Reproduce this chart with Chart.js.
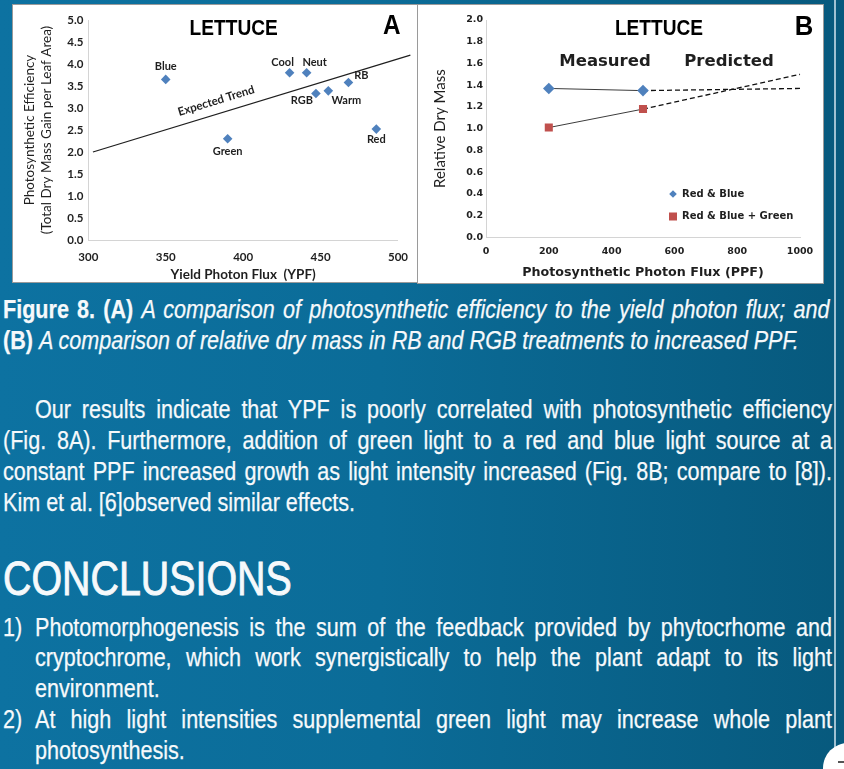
<!DOCTYPE html>
<html>
<head>
<meta charset="utf-8">
<script src="https://cdn.jsdelivr.net/npm/chart.js@4.4.1/dist/chart.umd.min.js"></script>
<style>
  html,body{margin:0;padding:0;}
  body{width:844px;height:769px;overflow:hidden;position:relative;
    background:linear-gradient(90deg,#0d72a1 0%,#0b6c98 45%,#07597d 100%);}
  .panel{position:absolute;background:#fff;box-shadow:0 0 0 1px #9a9a9a;}
  .panel canvas{position:absolute;left:0;top:0;}
  .t{position:absolute;left:3px;width:1011px;color:#f6f9fb;
     font-family:'Liberation Sans',Arial,sans-serif;font-size:26.3px;line-height:31px;white-space:nowrap;
     transform:scaleX(0.82);transform-origin:0 0;-webkit-text-stroke:0.25px #f6f9fb;}
  .j{text-align:justify;text-align-last:justify;white-space:normal;}
  .ind{left:35px;width:972px;}
  .hang{left:35px;width:972px;}
  .cap1{width:1008px;}
</style>
</head>
<body>
<div class="panel" style="left:13px;top:5px;width:405px;height:277px;"><canvas id="ca" width="405" height="277"></canvas></div>
<div class="panel" style="left:418px;top:5px;width:405px;height:278px;"><canvas id="cb" width="405" height="278"></canvas></div>

<div style="position:absolute;left:834px;top:0;width:1.5px;height:769px;background:#9fc1d2;"></div>

<div class="t j cap1" style="top:294px;"><b>Figure 8. (A)</b> <i>A comparison of photosynthetic efficiency to the yield photon flux; and</i></div>
<div class="t" style="top:325px;"><b>(B)</b> <i>A comparison of relative dry mass in RB and RGB treatments to increased PPF.</i></div>

<div class="t j ind" style="top:394px;">Our results indicate that YPF is poorly correlated with photosynthetic efficiency</div>
<div class="t j" style="top:425px;">(Fig. 8A). Furthermore, addition of green light to a red and blue light source at a</div>
<div class="t j" style="top:456px;">constant PPF increased growth as light intensity increased (Fig. 8B; compare to [8]).</div>
<div class="t" style="top:487px;">Kim et al. [6]observed similar effects.</div>

<div class="t" style="top:554px;font-size:48px;line-height:50px;-webkit-text-stroke:0.9px #f6f9fb;">CONCLUSIONS</div>
<div class="t" style="top:612px;width:40px;">1)</div>
<div class="t j hang" style="top:612px;">Photomorphogenesis is the sum of the feedback provided by phytocrhome and</div>
<div class="t j hang" style="top:642px;">cryptochrome, which work synergistically to help the plant adapt to its light</div>
<div class="t hang" style="top:673px;">environment.</div>
<div class="t" style="top:704px;width:40px;">2)</div>
<div class="t j hang" style="top:704px;">At high light intensities supplemental green light may increase whole plant</div>
<div class="t hang" style="top:735px;">photosynthesis.</div>

<div style="position:absolute;left:823px;top:743px;width:50px;height:50px;border-radius:50%;background:#fff;"></div>
<div style="position:absolute;left:838px;top:761px;width:8px;height:2px;background:#555;"></div>

<script>
// ---------- Panel A data ----------
const treatmentNames = ['Blue','Green','Cool','Neut','RGB','Warm','RB','Red'];
const ypfValues      = [350, 390, 430, 441, 447, 455, 468, 486];
const efficiency     = [3.65, 2.30, 3.80, 3.80, 3.33, 3.39, 3.58, 2.52];
const trendYpf       = [303, 508];
const trendEff       = [2.0, 4.2];
const ypfTicks       = [300, 350, 400, 450, 500];
const effTicks       = [0, 0.5, 1, 1.5, 2, 2.5, 3, 3.5, 4, 4.5, 5];

// ---------- Panel B data ----------
const ppfMeasured  = [200, 500];
const rbMeasured   = [1.37, 1.35];
const rgbMeasured  = [1.01, 1.18];
const ppfPredicted = [500, 1000];
const rbPredicted  = [1.35, 1.37];
const rgbPredicted = [1.18, 1.50];
const seriesNames  = ['Red & Blue', 'Red & Blue + Green'];
const ppfTicks     = [0, 200, 400, 600, 800, 1000];
const massTicks    = [0, 0.2, 0.4, 0.6, 0.8, 1.0, 1.2, 1.4, 1.6, 1.8, 2.0];

const BLUE = '#4f81bd', RED = '#c0504d', INK = '#1f1f1f';
const fontA = 'Lato, "Open Sans", sans-serif';
const fontB = '"DejaVu Sans", Verdana, sans-serif';
const arial = '"Liberation Sans", Arial, sans-serif';

// label offsets (pixels, style only)
const labelOffsets = [[0,-13],[0,13],[-7,-10],[8,-10],[-14,7],[18,10],[13,-7],[0,10]];

function narrowText(ctx, text, x, y, font, sx) {
  ctx.save();
  ctx.font = font;
  ctx.translate(x, y);
  ctx.scale(sx, 1);
  ctx.fillText(text, 0, 0);
  ctx.restore();
}

const panelAPlugin = {
  id: 'panelA',
  afterDatasetsDraw(chart) {
    const ctx = chart.ctx;
    ctx.save();
    ctx.fillStyle = INK;
    ctx.textAlign = 'center';
    ctx.textBaseline = 'middle';
    ctx.font = 'bold 11px ' + fontA;
    const meta = chart.getDatasetMeta(0);
    meta.data.forEach((el, i) => {
      const o = labelOffsets[i];
      ctx.fillText(treatmentNames[i], el.x + o[0], el.y + o[1]);
    });
    const tm = chart.getDatasetMeta(1).data;
    const x0 = tm[0].x, y0 = tm[0].y, x1 = tm[1].x, y1 = tm[1].y;
    const ang = Math.atan2(y1 - y0, x1 - x0);
    const t = 0.40;
    const px = x0 + (x1 - x0) * t, py = y0 + (y1 - y0) * t;
    ctx.translate(px + Math.sin(ang) * 13, py - Math.cos(ang) * 13);
    ctx.rotate(ang);
    ctx.font = 'bold 11.5px ' + fontA;
    ctx.fillText('Expected Trend', 0, 0);
    ctx.restore();
    ctx.save();
    ctx.fillStyle = '#000';
    ctx.textAlign = 'center';
    ctx.textBaseline = 'middle';
    narrowText(ctx, 'LETTUCE', 220.7, 24, 'bold 22.5px ' + arial, 0.85);
    narrowText(ctx, 'A', 378.7, 22, 'bold 27px ' + arial, 0.9);
    ctx.restore();
  }
};

new Chart(document.getElementById('ca'), {
  type: 'scatter',
  data: {
    datasets: [
      {
        label: 'Treatments',
        data: ypfValues.map((x, i) => ({x: x, y: efficiency[i]})),
        pointStyle: 'rectRot', pointRadius: 4.8,
        backgroundColor: BLUE, borderColor: BLUE, borderWidth: 0
      },
      {
        label: 'Expected Trend',
        type: 'line',
        data: trendYpf.map((x, i) => ({x: x, y: trendEff[i]})),
        borderColor: INK, borderWidth: 1.3, pointRadius: 0, clip: false, fill: false
      }
    ]
  },
  options: {
    responsive: false, animation: false, devicePixelRatio: 1,
    layout: {padding: {top: 15, right: 19, left: 0, bottom: 0}},
    plugins: {legend: {display: false}, tooltip: {enabled: false}},
    scales: {
      x: {
        type: 'linear', min: ypfTicks[0], max: ypfTicks[ypfTicks.length - 1],
        afterBuildTicks(s) { s.ticks = ypfTicks.map(v => ({value: v})); },
        ticks: {padding: 10, color: INK, font: {family: fontA, weight: 'bold', size: 11.5},
                callback: v => String(v)},
        grid: {display: false, drawTicks: false},
        border: {display: true, color: '#d4d4d4', width: 1},
        title: {display: true, text: 'Yield Photon Flux  (YPF)', color: INK,
                font: {family: fontA, weight: 'bold', size: 13.5, lineHeight: 1.1}, padding: {top: 0, bottom: 0}},
        afterFit(s) { s.height = 42; }
      },
      y: {
        type: 'linear', min: 0, max: 5,
        afterBuildTicks(s) { s.ticks = effTicks.map(v => ({value: v})); },
        ticks: {padding: 5, color: INK, font: {family: fontA, weight: 'bold', size: 11.5},
                callback: v => Number(v).toFixed(1)},
        grid: {display: false, drawTicks: false},
        border: {display: true, color: '#d4d4d4', width: 1},
        title: {display: true, text: ['Photosynthetic Efficiency', '(Total Dry Mass Gain per Leaf Area)'],
                color: INK, font: {family: fontA, size: 13.5, lineHeight: 1.26}, padding: {top: 8.5, bottom: 0}},
        afterFit(s) { s.width = 75.3; }
      }
    }
  },
  plugins: [panelAPlugin]
});

// ---------- Panel B ----------
function drawDiamond(ctx, x, y, r) {
  ctx.beginPath();
  ctx.moveTo(x, y - r); ctx.lineTo(x + r, y); ctx.lineTo(x, y + r); ctx.lineTo(x - r, y);
  ctx.closePath(); ctx.fill();
}

const panelBPlugin = {
  id: 'panelB',
  afterDatasetsDraw(chart) {
    const ctx = chart.ctx;
    ctx.save();
    ctx.textAlign = 'center';
    ctx.textBaseline = 'middle';
    ctx.fillStyle = '#000';
    narrowText(ctx, 'LETTUCE', 241, 24, 'bold 22.5px ' + arial, 0.85);
    narrowText(ctx, 'B', 386, 23, 'bold 27px ' + arial, 0.95);
    ctx.fillStyle = INK;
    ctx.font = 'bold 16.5px ' + fontB;
    ctx.fillText('Measured', 187, 57);
    ctx.fillText('Predicted', 311, 57);
    ctx.textAlign = 'left';
    ctx.font = 'bold 10px ' + fontB;
    ctx.fillStyle = BLUE;
    drawDiamond(ctx, 255, 189, 3.8);
    ctx.fillStyle = RED;
    ctx.fillRect(251, 207.5, 8, 8);
    ctx.fillStyle = INK;
    ctx.fillText(seriesNames[0], 264, 189.5);
    ctx.fillText(seriesNames[1], 264, 211.8);
    ctx.restore();
  }
};

const toPts = (xs, ys) => xs.map((x, i) => ({x: x, y: ys[i]}));

new Chart(document.getElementById('cb'), {
  type: 'line',
  data: {
    datasets: [
      {label: seriesNames[0], data: toPts(ppfMeasured, rbMeasured),
       borderColor: '#3c3c3c', borderWidth: 1, pointStyle: 'rectRot', pointRadius: 5.8,
       pointBackgroundColor: BLUE, pointBorderColor: BLUE, pointBorderWidth: 0, fill: false},
      {label: seriesNames[1], data: toPts(ppfMeasured, rgbMeasured),
       borderColor: '#3c3c3c', borderWidth: 1, pointStyle: 'rect', pointRadius: 5.7,
       pointBackgroundColor: RED, pointBorderColor: RED, pointBorderWidth: 0, fill: false},
      {label: seriesNames[0] + ' predicted', data: toPts(ppfPredicted, rbPredicted),
       borderColor: '#111', borderWidth: 1.3, borderDash: [5, 3], pointRadius: 0, fill: false, clip: false},
      {label: seriesNames[1] + ' predicted', data: toPts(ppfPredicted, rgbPredicted),
       borderColor: '#111', borderWidth: 1.3, borderDash: [5, 3], pointRadius: 0, fill: false, clip: false}
    ]
  },
  options: {
    responsive: false, animation: false, devicePixelRatio: 1,
    layout: {padding: {top: 15, right: 23, left: 0, bottom: 0}},
    plugins: {legend: {display: false}, tooltip: {enabled: false}},
    scales: {
      x: {
        type: 'linear', min: 0, max: 1000,
        afterBuildTicks(s) { s.ticks = ppfTicks.map(v => ({value: v})); },
        ticks: {padding: 9, color: INK, font: {family: fontB, weight: 'bold', size: 9.5},
                callback: v => String(v)},
        grid: {display: false, drawTicks: false},
        border: {display: true, color: '#d4d4d4', width: 1},
        title: {display: true, text: 'Photosynthetic Photon Flux (PPF)', color: INK,
                font: {family: fontB, weight: 'bold', size: 12.7, lineHeight: 1.1}, padding: {top: 0, bottom: 3}},
        afterFit(s) { s.height = 45.7; }
      },
      y: {
        type: 'linear', min: 0, max: 2,
        afterBuildTicks(s) { s.ticks = massTicks.map(v => ({value: v})); },
        ticks: {padding: 3, color: INK, font: {family: fontB, weight: 'bold', size: 9.5},
                callback: v => Number(v).toFixed(1)},
        grid: {display: false, drawTicks: false},
        border: {display: true, color: '#d4d4d4', width: 1},
        title: {display: true, text: 'Relative Dry Mass', color: INK,
                font: {family: fontA, size: 15, lineHeight: 1.2}, padding: {top: 13, bottom: 0}},
        afterFit(s) { s.width = 68; }
      }
    }
  },
  plugins: [panelBPlugin]
});
</script>
</body>
</html>
